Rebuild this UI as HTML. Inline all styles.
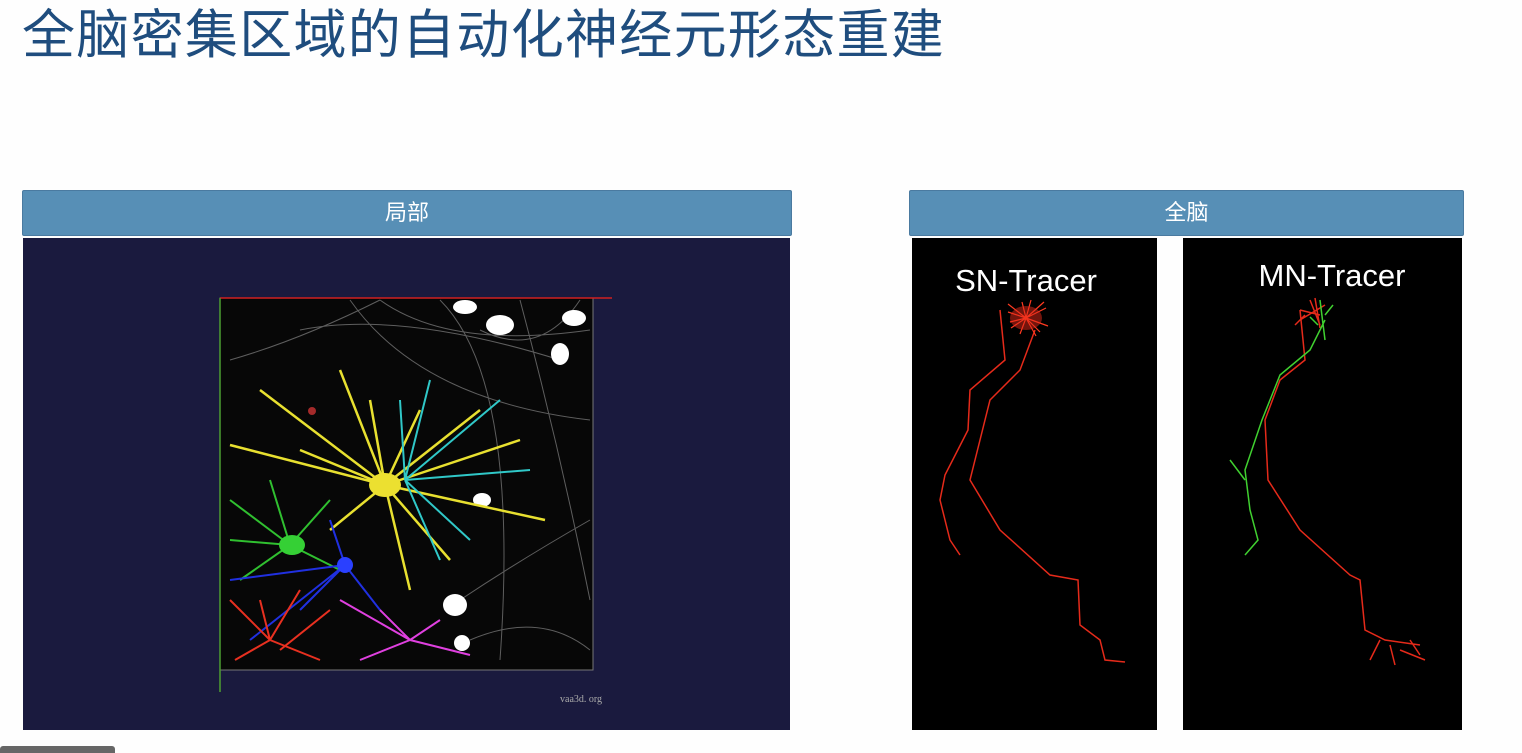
<!DOCTYPE html>
<html><head><meta charset="utf-8"><style>
body{margin:0;width:1522px;height:753px;background:#fefefe;position:relative;overflow:hidden;font-family:"Liberation Sans","Noto Sans CJK SC",sans-serif}
.title{position:absolute;left:22px;top:-7px;font-size:53px;color:#1f4d7e;letter-spacing:1.3px;white-space:nowrap}
.bar{position:absolute;height:44px;background:#578fb6;border:1px solid #4a7aa0;color:#fff;font-size:22px;text-align:center;line-height:44px;border-radius:2px}
</style></head><body>
<div class="title">全脑密集区域的自动化神经元形态重建</div>
<div class="bar" style="left:22px;top:190px;width:768px">局部</div>
<div class="bar" style="left:909px;top:190px;width:553px">全脑</div>
<svg style="position:absolute;left:0;top:0" width="1522" height="753">
<rect x="23" y="238" width="767" height="492" fill="#1a1a3e"/>
<rect x="220" y="298" width="373" height="372" fill="#070707" stroke="#777" stroke-width="1"/>
<g stroke="#999" stroke-width="1" fill="none" opacity="0.6">
<path d="M300 330 Q400 310 560 360 M350 300 Q420 400 590 420 M440 300 Q520 380 500 660 M520 300 Q560 450 590 600 M230 360 Q300 340 380 300 M460 600 Q520 560 590 520 M470 640 Q540 610 590 650 M380 300 Q450 350 590 330 M480 330 Q540 360 580 300"/>
</g>
<g fill="#fff"><ellipse cx="500" cy="325" rx="14" ry="10"/><ellipse cx="574" cy="318" rx="12" ry="8"/><ellipse cx="560" cy="354" rx="9" ry="11"/><ellipse cx="465" cy="307" rx="12" ry="7"/><ellipse cx="482" cy="500" rx="9" ry="7"/><ellipse cx="455" cy="605" rx="12" ry="11"/><ellipse cx="462" cy="643" rx="8" ry="8"/></g>
<g stroke="#e8e030" stroke-width="2.5" fill="none">
<path d="M385 485 L260 390 M385 485 L340 370 M385 485 L420 410 M385 485 L230 445 M385 485 L545 520 M385 485 L520 440 M385 485 L410 590 M385 485 L450 560 M385 485 L330 530 M385 485 L300 450 M385 485 L480 410 M385 485 L370 400"/>
</g><ellipse cx="385" cy="485" rx="16" ry="12" fill="#ece030"/>
<g stroke="#30c8c8" stroke-width="2" fill="none"><path d="M405 480 L430 380 M405 480 L500 400 M405 480 L530 470 M405 480 L470 540 M405 480 L440 560 M405 480 L400 400"/></g>
<g stroke="#30c030" stroke-width="2" fill="none"><path d="M290 545 L230 500 M290 545 L240 580 M290 545 L330 500 M290 545 L270 480 M290 545 L230 540 M290 545 L340 570"/></g><ellipse cx="292" cy="545" rx="13" ry="10" fill="#35d035"/>
<g stroke="#2030e0" stroke-width="2" fill="none"><path d="M345 565 L230 580 M345 565 L300 610 M345 565 L380 610 M345 565 L330 520 M345 565 L250 640"/></g><ellipse cx="345" cy="565" rx="8" ry="8" fill="#2a40ff"/>
<g stroke="#e83020" stroke-width="2" fill="none"><path d="M270 640 L230 600 M270 640 L300 590 M270 640 L320 660 M270 640 L235 660 M270 640 L260 600 M280 650 L330 610"/></g>
<g stroke="#e040e0" stroke-width="2" fill="none"><path d="M410 640 L340 600 M410 640 L360 660 M410 640 L470 655 M410 640 L440 620 M410 640 L380 610"/></g>
<circle cx="312" cy="411" r="4" fill="#c33" opacity=".8"/>
<line x1="220" y1="298" x2="612" y2="298" stroke="#d02020" stroke-width="1.5"/>
<line x1="220" y1="298" x2="220" y2="692" stroke="#4c9e30" stroke-width="1.5"/>
<text x="560" y="702" fill="#aaa" font-size="10" font-family="Liberation Serif,serif">vaa3d. org</text>
<rect x="912" y="238" width="245" height="492" fill="#000"/>
<rect x="1183" y="238" width="279" height="492" fill="#000"/>
<text x="1026" y="291" fill="#fff" font-size="31" text-anchor="middle">SN-Tracer</text>
<text x="1332" y="286" fill="#fff" font-size="31" text-anchor="middle">MN-Tracer</text>
<g stroke="#e52a1a" stroke-width="1.5" fill="none">
<path d="M1000 310 L1005 360 L970 390 L968 430 L945 475 L940 500 L950 540 L960 555"/>
<path d="M1035 330 L1020 370 L990 400 L980 440 L970 480 L1000 530 L1050 575 L1078 580 L1080 625 L1100 640 L1105 660 L1125 662"/>
<path d="M1300 310 L1305 360 L1280 380 L1265 420 L1268 480 L1300 530 L1350 575 L1360 580 L1365 630 L1385 640 L1420 645 M1380 640 l-10 20 M1400 650 l25 10 M1390 645 l5 20 M1410 640 l10 15"/>
<path d="M1300 310 l20 5 M1310 300 l10 25 M1300 320 l25 -15 M1305 315 l-10 10 M1315 298 l5 30"/>
</g>
<g stroke="#ff3a20" stroke-width="1.2" fill="none">
<path d="M1026 318 l20 -10 M1026 318 l22 8 M1026 318 l-18 -6 M1026 318 l-15 10 M1026 318 l5 -18 M1026 318 l-4 -16 M1026 318 l10 18 M1026 318 l-6 16 M1026 318 l18 -16 M1026 318 l-18 -14 M1026 318 l14 14 M1026 318 l-16 4"/>
</g>
<ellipse cx="1026" cy="318" rx="16" ry="12" fill="#e52a1a" opacity=".5"/>
<g stroke="#40d030" stroke-width="1.5" fill="none"><path d="M1325 320 L1310 350 L1280 375 L1262 420 L1245 470 L1250 510 L1258 540 L1245 555 M1230 460 l15 20 M1320 300 l5 40 M1325 315 l8 -10 M1318 325 l-8 -8"/></g>
<rect x="0" y="746" width="115" height="10" rx="3" fill="#666"/>
</svg>
</body></html>
